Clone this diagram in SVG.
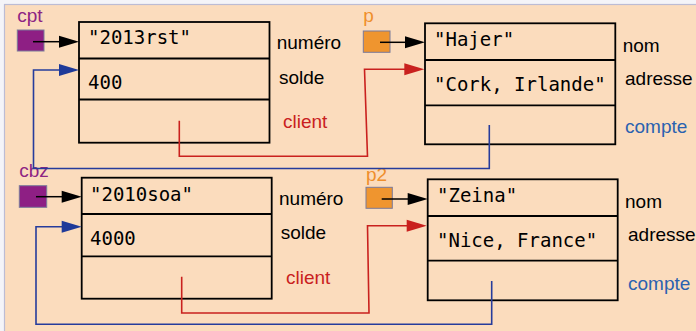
<svg xmlns="http://www.w3.org/2000/svg" width="696" height="331" viewBox="0 0 696 331">
  <defs>
    <style>
      .box { fill: none; stroke: #000; stroke-width: 1.8; }
      .sep { stroke: #000; stroke-width: 1.8; }
      .val { font-family: "DejaVu Sans Mono", "Liberation Mono", monospace; font-size: 19px; fill: #000; }
      .lbl { font-family: "Liberation Sans", Arial, sans-serif; font-size: 19px; fill: #000; }
      .red { fill: #c9211e; }
      .blue { fill: #2a62b0; }
      .purple { fill: #8e2483; }
      .orange { fill: #ef8f2c; }
      .ref { stroke: #7a7a9a; stroke-width: 1; }
      .wk { fill: none; stroke: #000; stroke-width: 1.5; }
      .wr { fill: none; stroke: #c9211e; stroke-width: 1.6; }
      .wb { fill: none; stroke: #263c9c; stroke-width: 1.6; }
    </style>
  </defs>

  <!-- page background -->
  <rect x="0" y="0" width="696" height="331" fill="#f4f4f8"/>
  <rect x="4.5" y="4.5" width="700" height="340" fill="#fbdcbd" stroke="#bcbcd4" stroke-width="1.2"/>

  <!-- account object referenced by cpt -->
  <g id="compte1">
    <rect class="box" x="79" y="22" width="190.5" height="120.7"/>
    <line class="sep" x1="79" y1="58.5" x2="269.5" y2="58.5"/>
    <line class="sep" x1="79" y1="99.5" x2="269.5" y2="99.5"/>
    <text class="val" x="88" y="44">"2013rst"</text>
    <text class="val" x="88" y="89">400</text>
    <text class="lbl" x="276.7" y="49">numéro</text>
    <text class="lbl" x="279" y="84">solde</text>
    <text class="lbl red" x="283" y="128">client</text>
  </g>

  <!-- client object referenced by p -->
  <g id="client1">
    <rect class="box" x="425" y="23.3" width="190.3" height="121"/>
    <line class="sep" x1="425" y1="60" x2="615.3" y2="60"/>
    <line class="sep" x1="425" y1="105.3" x2="615.3" y2="105.3"/>
    <text class="val" x="434" y="46">"Hajer"</text>
    <text class="val" x="434" y="90.5">"Cork, Irlande"</text>
    <text class="lbl" x="622.7" y="52">nom</text>
    <text class="lbl" x="625" y="85">adresse</text>
    <text class="lbl blue" x="625" y="133">compte</text>
  </g>

  <!-- account object referenced by cbz -->
  <g id="compte2">
    <rect class="box" x="81.7" y="177.7" width="190" height="121"/>
    <line class="sep" x1="81.7" y1="214" x2="271.7" y2="214"/>
    <line class="sep" x1="81.7" y1="256.3" x2="271.7" y2="256.3"/>
    <text class="val" x="90" y="200.7">"2010soa"</text>
    <text class="val" x="90" y="245">4000</text>
    <text class="lbl" x="279" y="205">numéro</text>
    <text class="lbl" x="280.7" y="239">solde</text>
    <text class="lbl red" x="286" y="284">client</text>
  </g>

  <!-- client object referenced by p2 -->
  <g id="client2">
    <rect class="box" x="427.7" y="179.3" width="190" height="121"/>
    <line class="sep" x1="427.7" y1="216" x2="617.7" y2="216"/>
    <line class="sep" x1="427.7" y1="260.7" x2="617.7" y2="260.7"/>
    <text class="val" x="437" y="202.3">"Zeina"</text>
    <text class="val" x="437" y="246.5">"Nice, France"</text>
    <text class="lbl" x="625" y="207.7">nom</text>
    <text class="lbl" x="628" y="241">adresse</text>
    <text class="lbl blue" x="628" y="290">compte</text>
  </g>

  <!-- reference variables -->
  <g id="cpt">
    <text class="lbl purple" x="17.3" y="22">cpt</text>
    <rect class="ref" x="17.3" y="30" width="26.7" height="21" fill="#8e1f84"/>
  </g>
  <g id="p">
    <text class="lbl orange" x="363.3" y="22">p</text>
    <rect class="ref" x="363.3" y="31" width="26.7" height="21.3" fill="#ef952f"/>
  </g>
  <g id="cbz">
    <text class="lbl purple" x="19.3" y="176.5">cbz</text>
    <rect class="ref" x="19.3" y="185.7" width="27.4" height="21.6" fill="#8e1f84"/>
  </g>
  <g id="p2">
    <text class="lbl orange" x="366" y="181">p2</text>
    <rect class="ref" x="366" y="187.3" width="26.3" height="21" fill="#ef952f"/>
  </g>

  <!-- connectors -->
  <g id="connectors">
    <!-- variable to object -->
    <line class="wk" x1="33" y1="41.7" x2="60" y2="41.7"/>
    <polygon points="59,35.7 79,41.7 59,47.7" fill="#000"/>
    <line class="wk" x1="380" y1="42.3" x2="406" y2="42.3"/>
    <polygon points="405,36.3 425,42.3 405,48.3" fill="#000"/>
    <line class="wk" x1="36" y1="196.7" x2="62" y2="196.7"/>
    <polygon points="61.7,190.7 81.7,196.7 61.7,202.7" fill="#000"/>
    <line class="wk" x1="381.7" y1="199" x2="408" y2="199"/>
    <polygon points="407.7,193 427.7,199 407.7,205" fill="#000"/>

    <!-- client links -->
    <polyline class="wr" points="179.3,120.7 179.3,156.3 367.5,156.3 364.5,69.3 405,69.3"/>
    <polygon points="404.3,63.3 424.3,69.3 404.3,75.3" fill="#c9211e"/>
    <polyline class="wr" points="181.7,276.7 181.7,313 369,313 367.5,225.7 407,225.7"/>
    <polygon points="406.7,219.7 426.7,225.7 406.7,231.7" fill="#c9211e"/>

    <!-- compte links -->
    <polyline class="wb" points="489.3,125 489.3,168.5 33.5,168.5 33.5,70 60,70"/>
    <polygon points="59,64 79,70 59,76" fill="#1f3a99"/>
    <polyline class="wb" points="491.7,281 491.7,324.3 36,324.3 36,226.7 62,226.7"/>
    <polygon points="61.7,220.7 81.7,226.7 61.7,232.7" fill="#1f3a99"/>
  </g>
</svg>
